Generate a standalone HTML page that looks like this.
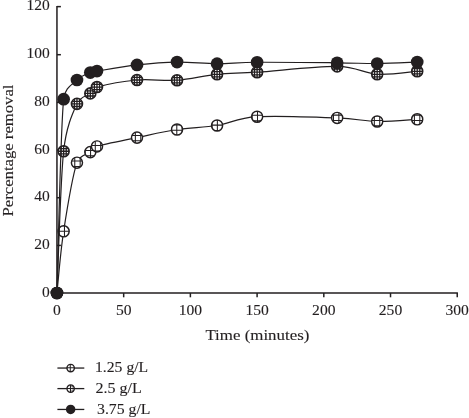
<!DOCTYPE html>
<html><head><meta charset="utf-8"><title>Percentage removal vs time</title>
<style>
html,body{margin:0;padding:0;background:#fff;}
body{width:469px;height:418px;overflow:hidden;}
svg{display:block;}
text{font-family:"Liberation Serif",serif;font-size:15.2px;fill:#231f20;stroke:#231f20;stroke-width:0.12px;}
</style></head><body>
<svg width="469" height="418" viewBox="0 0 469 418">
<defs>
<clipPath id="mc"><circle r="5.55"/></clipPath>
</defs>
<rect width="469" height="418" fill="#fff"/>

<g stroke="#231f20" stroke-width="1.5" fill="none">
<path d="M56.95 5.9V293.1H457.9"/>
<path d="M56.95 293.10H60.9"/>
<path d="M56.95 245.42H60.9"/>
<path d="M56.95 197.74H60.9"/>
<path d="M56.95 150.06H60.9"/>
<path d="M56.95 102.38H60.9"/>
<path d="M56.95 54.70H60.9"/>
<path d="M56.95 6.62H60.9"/>
<path d="M56.95 293.1V297.3"/>
<path d="M123.67 293.1V297.3"/>
<path d="M190.38 293.1V297.3"/>
<path d="M257.10 293.1V297.3"/>
<path d="M323.81 293.1V297.3"/>
<path d="M390.52 293.1V297.3"/>
<path d="M457.24 293.1V297.3"/>
</g>
<text x="49.8" y="296.5" text-anchor="end" style="font-size:15.5px">0</text>
<text x="49.8" y="248.8" text-anchor="end" style="font-size:15.5px">20</text>
<text x="49.8" y="201.1" text-anchor="end" style="font-size:15.5px">40</text>
<text x="49.8" y="153.5" text-anchor="end" style="font-size:15.5px">60</text>
<text x="49.8" y="105.8" text-anchor="end" style="font-size:15.5px">80</text>
<text x="49.8" y="58.1" text-anchor="end" style="font-size:15.5px">100</text>
<text x="49.8" y="10.4" text-anchor="end" style="font-size:15.5px">120</text>
<text x="57.0" y="314.9" text-anchor="middle" style="font-size:15.6px">0</text>
<text x="123.7" y="314.9" text-anchor="middle" style="font-size:15.6px">50</text>
<text x="190.4" y="314.9" text-anchor="middle" style="font-size:15.6px">100</text>
<text x="257.1" y="314.9" text-anchor="middle" style="font-size:15.6px">150</text>
<text x="323.8" y="314.9" text-anchor="middle" style="font-size:15.6px">200</text>
<text x="390.5" y="314.9" text-anchor="middle" style="font-size:15.6px">250</text>
<text x="457.2" y="314.9" text-anchor="middle" style="font-size:15.6px">300</text>
<text x="257.4" y="339.6" text-anchor="middle" textLength="104" lengthAdjust="spacingAndGlyphs">Time (minutes)</text>
<text transform="translate(13.1 150.5) rotate(-90)" text-anchor="middle" textLength="132" lengthAdjust="spacingAndGlyphs">Percentage removal</text>
<path d="M56.95 293.00 C58.06 282.72 60.29 253.03 63.62 231.30 C66.96 209.58 72.52 175.85 76.96 162.65 C79.68 154.59 86.97 154.81 90.31 152.10 C93.64 149.39 92.79 147.70 96.98 146.40 C104.76 143.98 123.67 140.42 137.01 137.60 C150.35 134.78 163.69 131.52 177.04 129.50 C190.38 127.48 203.72 127.63 217.07 125.50 C230.41 123.37 237.08 117.97 257.10 116.70 C277.11 115.43 317.14 117.11 337.15 117.90 C357.17 118.69 363.84 121.22 377.18 121.45 C390.53 121.68 410.54 119.66 417.21 119.30" fill="none" stroke="#231f20" stroke-width="1.2"/>
<g transform="translate(56.95 293.00)"><circle r="5.55" fill="#fff"/><path d="M-5.40 -7 V7M-7 -5.40 H7M0.00 -7 V7M-7 0.00 H7M5.40 -7 V7M-7 5.40 H7" clip-path="url(#mc)" stroke="#231f20" stroke-width="1.05" fill="none"/><circle r="5.55" fill="none" stroke="#231f20" stroke-width="1.45"/></g>
<g transform="translate(63.62 231.30)"><circle r="5.55" fill="#fff"/><path d="M-4.55 -7 V7M-7 -5.50 H7M0.85 -7 V7M-7 -0.10 H7M6.25 -7 V7M-7 5.30 H7" clip-path="url(#mc)" stroke="#231f20" stroke-width="1.05" fill="none"/><circle r="5.55" fill="none" stroke="#231f20" stroke-width="1.45"/></g>
<g transform="translate(76.96 162.65)"><circle r="5.55" fill="#fff"/><path d="M-2.20 -7 V7M-7 -1.65 H7M3.20 -7 V7M-7 3.75 H7" clip-path="url(#mc)" stroke="#231f20" stroke-width="1.05" fill="none"/><circle r="5.55" fill="none" stroke="#231f20" stroke-width="1.45"/></g>
<g transform="translate(90.31 152.10)"><circle r="5.55" fill="#fff"/><path d="M-5.15 -7 V7M0.25 -7 V7M-7 -1.70 H7M5.65 -7 V7M-7 3.70 H7" clip-path="url(#mc)" stroke="#231f20" stroke-width="1.05" fill="none"/><circle r="5.55" fill="none" stroke="#231f20" stroke-width="1.45"/></g>
<g transform="translate(96.98 146.40)"><circle r="5.55" fill="#fff"/><path d="M-7 -6.30 H7M-1.70 -7 V7M-7 -0.90 H7M3.70 -7 V7M-7 4.50 H7" clip-path="url(#mc)" stroke="#231f20" stroke-width="1.05" fill="none"/><circle r="5.55" fill="none" stroke="#231f20" stroke-width="1.45"/></g>
<g transform="translate(137.01 137.60)"><circle r="5.55" fill="#fff"/><path d="M-1.65 -7 V7M-7 -2.20 H7M3.75 -7 V7M-7 3.20 H7" clip-path="url(#mc)" stroke="#231f20" stroke-width="1.05" fill="none"/><circle r="5.55" fill="none" stroke="#231f20" stroke-width="1.45"/></g>
<g transform="translate(177.04 129.50)"><circle r="5.55" fill="#fff"/><path d="M-5.65 -7 V7M-7 -4.60 H7M-0.25 -7 V7M-7 0.80 H7M5.15 -7 V7M-7 6.20 H7" clip-path="url(#mc)" stroke="#231f20" stroke-width="1.05" fill="none"/><circle r="5.55" fill="none" stroke="#231f20" stroke-width="1.45"/></g>
<g transform="translate(217.07 125.50)"><circle r="5.55" fill="#fff"/><path d="M-5.10 -7 V7M-7 -5.80 H7M0.30 -7 V7M-7 -0.40 H7M5.70 -7 V7M-7 5.00 H7" clip-path="url(#mc)" stroke="#231f20" stroke-width="1.05" fill="none"/><circle r="5.55" fill="none" stroke="#231f20" stroke-width="1.45"/></g>
<g transform="translate(257.10 116.70)"><circle r="5.55" fill="#fff"/><path d="M-5.00 -7 V7M-7 -6.80 H7M0.40 -7 V7M-7 -1.40 H7M5.80 -7 V7M-7 4.00 H7" clip-path="url(#mc)" stroke="#231f20" stroke-width="1.05" fill="none"/><circle r="5.55" fill="none" stroke="#231f20" stroke-width="1.45"/></g>
<g transform="translate(337.15 117.90)"><circle r="5.55" fill="#fff"/><path d="M-3.70 -7 V7M-7 -2.80 H7M1.70 -7 V7M-7 2.60 H7" clip-path="url(#mc)" stroke="#231f20" stroke-width="1.05" fill="none"/><circle r="5.55" fill="none" stroke="#231f20" stroke-width="1.45"/></g>
<g transform="translate(377.18 121.45)"><circle r="5.55" fill="#fff"/><path d="M-7 -6.45 H7M-2.85 -7 V7M-7 -1.05 H7M2.55 -7 V7M-7 4.35 H7" clip-path="url(#mc)" stroke="#231f20" stroke-width="1.05" fill="none"/><circle r="5.55" fill="none" stroke="#231f20" stroke-width="1.45"/></g>
<g transform="translate(417.21 119.30)"><circle r="5.55" fill="#fff"/><path d="M-7 -4.20 H7M-2.80 -7 V7M-7 1.20 H7M2.60 -7 V7M-7 6.60 H7" clip-path="url(#mc)" stroke="#231f20" stroke-width="1.05" fill="none"/><circle r="5.55" fill="none" stroke="#231f20" stroke-width="1.45"/></g>
<path d="M56.95 293.00 C58.06 269.38 60.29 182.77 63.62 151.25 C66.21 126.79 72.52 113.54 76.96 103.90 C80.52 96.19 86.97 96.21 90.31 93.40 C93.64 90.59 92.55 88.32 96.98 87.05 C104.76 84.82 123.67 81.14 137.01 80.00 C150.35 78.86 163.69 81.15 177.04 80.20 C190.38 79.25 203.72 75.63 217.07 74.30 C230.41 72.97 237.10 73.52 257.10 72.20 C277.11 70.88 317.14 66.05 337.15 66.40 C357.17 66.75 363.84 73.48 377.18 74.30 C390.53 75.12 410.54 71.80 417.21 71.30" fill="none" stroke="#231f20" stroke-width="1.2"/>
<g transform="translate(56.95 293.00)"><circle r="5.55" fill="#fff"/><path d="M-5.20 -7 V7M-7 -5.20 H7M-2.60 -7 V7M-7 -2.60 H7M0.00 -7 V7M-7 0.00 H7M2.60 -7 V7M-7 2.60 H7M5.20 -7 V7M-7 5.20 H7" clip-path="url(#mc)" stroke="#231f20" stroke-width="1.3" fill="none"/><circle r="5.55" fill="none" stroke="#231f20" stroke-width="1.5"/></g>
<g transform="translate(63.62 151.25)"><circle r="5.55" fill="#fff"/><path d="M-5.20 -7 V7M-7 -5.20 H7M-2.60 -7 V7M-7 -2.60 H7M0.00 -7 V7M-7 0.00 H7M2.60 -7 V7M-7 2.60 H7M5.20 -7 V7M-7 5.20 H7" clip-path="url(#mc)" stroke="#231f20" stroke-width="1.3" fill="none"/><circle r="5.55" fill="none" stroke="#231f20" stroke-width="1.5"/></g>
<g transform="translate(76.96 103.90)"><circle r="5.55" fill="#fff"/><path d="M-5.20 -7 V7M-7 -5.20 H7M-2.60 -7 V7M-7 -2.60 H7M0.00 -7 V7M-7 0.00 H7M2.60 -7 V7M-7 2.60 H7M5.20 -7 V7M-7 5.20 H7" clip-path="url(#mc)" stroke="#231f20" stroke-width="1.3" fill="none"/><circle r="5.55" fill="none" stroke="#231f20" stroke-width="1.5"/></g>
<g transform="translate(90.31 93.40)"><circle r="5.55" fill="#fff"/><path d="M-5.20 -7 V7M-7 -5.20 H7M-2.60 -7 V7M-7 -2.60 H7M0.00 -7 V7M-7 0.00 H7M2.60 -7 V7M-7 2.60 H7M5.20 -7 V7M-7 5.20 H7" clip-path="url(#mc)" stroke="#231f20" stroke-width="1.3" fill="none"/><circle r="5.55" fill="none" stroke="#231f20" stroke-width="1.5"/></g>
<g transform="translate(96.98 87.05)"><circle r="5.55" fill="#fff"/><path d="M-5.20 -7 V7M-7 -5.20 H7M-2.60 -7 V7M-7 -2.60 H7M0.00 -7 V7M-7 0.00 H7M2.60 -7 V7M-7 2.60 H7M5.20 -7 V7M-7 5.20 H7" clip-path="url(#mc)" stroke="#231f20" stroke-width="1.3" fill="none"/><circle r="5.55" fill="none" stroke="#231f20" stroke-width="1.5"/></g>
<g transform="translate(137.01 80.00)"><circle r="5.55" fill="#fff"/><path d="M-5.20 -7 V7M-7 -5.20 H7M-2.60 -7 V7M-7 -2.60 H7M0.00 -7 V7M-7 0.00 H7M2.60 -7 V7M-7 2.60 H7M5.20 -7 V7M-7 5.20 H7" clip-path="url(#mc)" stroke="#231f20" stroke-width="1.3" fill="none"/><circle r="5.55" fill="none" stroke="#231f20" stroke-width="1.5"/></g>
<g transform="translate(177.04 80.20)"><circle r="5.55" fill="#fff"/><path d="M-5.20 -7 V7M-7 -5.20 H7M-2.60 -7 V7M-7 -2.60 H7M0.00 -7 V7M-7 0.00 H7M2.60 -7 V7M-7 2.60 H7M5.20 -7 V7M-7 5.20 H7" clip-path="url(#mc)" stroke="#231f20" stroke-width="1.3" fill="none"/><circle r="5.55" fill="none" stroke="#231f20" stroke-width="1.5"/></g>
<g transform="translate(217.07 74.30)"><circle r="5.55" fill="#fff"/><path d="M-5.20 -7 V7M-7 -5.20 H7M-2.60 -7 V7M-7 -2.60 H7M0.00 -7 V7M-7 0.00 H7M2.60 -7 V7M-7 2.60 H7M5.20 -7 V7M-7 5.20 H7" clip-path="url(#mc)" stroke="#231f20" stroke-width="1.3" fill="none"/><circle r="5.55" fill="none" stroke="#231f20" stroke-width="1.5"/></g>
<g transform="translate(257.10 72.20)"><circle r="5.55" fill="#fff"/><path d="M-5.20 -7 V7M-7 -5.20 H7M-2.60 -7 V7M-7 -2.60 H7M0.00 -7 V7M-7 0.00 H7M2.60 -7 V7M-7 2.60 H7M5.20 -7 V7M-7 5.20 H7" clip-path="url(#mc)" stroke="#231f20" stroke-width="1.3" fill="none"/><circle r="5.55" fill="none" stroke="#231f20" stroke-width="1.5"/></g>
<g transform="translate(337.15 66.40)"><circle r="5.55" fill="#fff"/><path d="M-5.20 -7 V7M-7 -5.20 H7M-2.60 -7 V7M-7 -2.60 H7M0.00 -7 V7M-7 0.00 H7M2.60 -7 V7M-7 2.60 H7M5.20 -7 V7M-7 5.20 H7" clip-path="url(#mc)" stroke="#231f20" stroke-width="1.3" fill="none"/><circle r="5.55" fill="none" stroke="#231f20" stroke-width="1.5"/></g>
<g transform="translate(377.18 74.30)"><circle r="5.55" fill="#fff"/><path d="M-5.20 -7 V7M-7 -5.20 H7M-2.60 -7 V7M-7 -2.60 H7M0.00 -7 V7M-7 0.00 H7M2.60 -7 V7M-7 2.60 H7M5.20 -7 V7M-7 5.20 H7" clip-path="url(#mc)" stroke="#231f20" stroke-width="1.3" fill="none"/><circle r="5.55" fill="none" stroke="#231f20" stroke-width="1.5"/></g>
<g transform="translate(417.21 71.30)"><circle r="5.55" fill="#fff"/><path d="M-5.20 -7 V7M-7 -5.20 H7M-2.60 -7 V7M-7 -2.60 H7M0.00 -7 V7M-7 0.00 H7M2.60 -7 V7M-7 2.60 H7M5.20 -7 V7M-7 5.20 H7" clip-path="url(#mc)" stroke="#231f20" stroke-width="1.3" fill="none"/><circle r="5.55" fill="none" stroke="#231f20" stroke-width="1.5"/></g>
<path d="M56.95 293.00 C58.06 260.70 60.29 134.70 63.62 99.20 C64.72 87.56 72.52 84.43 76.96 80.00 C81.41 75.57 86.97 74.08 90.31 72.60 C93.43 71.21 93.60 71.65 96.98 71.10 C104.76 69.82 123.67 66.45 137.01 64.95 C150.35 63.45 163.69 62.31 177.04 62.10 C190.38 61.89 203.72 63.68 217.07 63.70 C230.41 63.73 237.08 62.40 257.10 62.25 C277.11 62.10 317.14 62.59 337.15 62.80 C357.17 63.01 363.84 63.62 377.18 63.50 C390.53 63.38 410.54 62.33 417.21 62.10" fill="none" stroke="#231f20" stroke-width="1.2"/>
<g transform="translate(56.95 293.00)"><circle r="6.35" fill="#231f20"/></g>
<g transform="translate(63.62 99.20)"><circle r="6.35" fill="#231f20"/></g>
<g transform="translate(76.96 80.00)"><circle r="6.35" fill="#231f20"/></g>
<g transform="translate(90.31 72.60)"><circle r="6.35" fill="#231f20"/></g>
<g transform="translate(96.98 71.10)"><circle r="6.35" fill="#231f20"/></g>
<g transform="translate(137.01 64.95)"><circle r="6.35" fill="#231f20"/></g>
<g transform="translate(177.04 62.10)"><circle r="6.35" fill="#231f20"/></g>
<g transform="translate(217.07 63.70)"><circle r="6.35" fill="#231f20"/></g>
<g transform="translate(257.10 62.25)"><circle r="6.35" fill="#231f20"/></g>
<g transform="translate(337.15 62.80)"><circle r="6.35" fill="#231f20"/></g>
<g transform="translate(377.18 63.50)"><circle r="6.35" fill="#231f20"/></g>
<g transform="translate(417.21 62.10)"><circle r="6.35" fill="#231f20"/></g>
<path d="M57.4 368.05H84.3" stroke="#231f20" stroke-width="1.3"/>
<g transform="translate(70.65 368.05)"><circle r="3.70" fill="#fff" stroke="#231f20" stroke-width="1.4"/><path d="M-3.70 -0.3H3.70M-0.4 -3.70V3.70" stroke="#231f20" stroke-width="1" fill="none"/></g>
<text x="95.0" y="372.0" textLength="53.2" lengthAdjust="spacingAndGlyphs">1.25 g/L</text>
<path d="M57.4 388.60H84.3" stroke="#231f20" stroke-width="1.3"/>
<g transform="translate(70.65 388.60)"><circle r="3.70" fill="#fff" stroke="#231f20" stroke-width="1.3"/><path d="M-3.70 -0.1H3.70M-0.15 -3.70V3.70" stroke="#231f20" stroke-width="1.2" fill="none"/><path d="M2.3 -2.6V2.6M0 -2.4H3M0 2.3H3" stroke="#231f20" stroke-width="0.9" stroke-opacity="0.55" fill="none"/></g>
<text x="95.5" y="392.9" textLength="46.4" lengthAdjust="spacingAndGlyphs">2.5 g/L</text>
<path d="M57.4 409.45H84.3" stroke="#231f20" stroke-width="1.3"/>
<g transform="translate(70.65 409.45)"><circle r="4.75" fill="#231f20"/></g>
<text x="97.0" y="413.7" textLength="53.5" lengthAdjust="spacingAndGlyphs">3.75 g/L</text>
</svg></body></html>
